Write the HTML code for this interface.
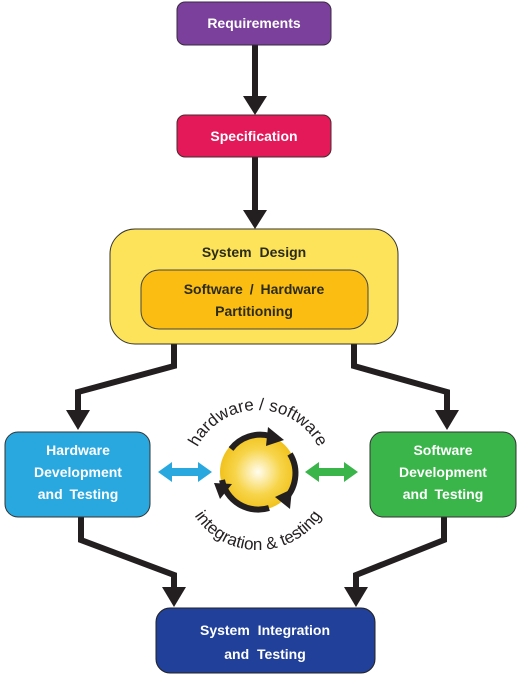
<!DOCTYPE html>
<html><head><style>body{margin:0;background:#fff}svg{display:block}</style></head><body>
<svg width="523" height="678" viewBox="0 0 523 678" xmlns="http://www.w3.org/2000/svg" font-family="Liberation Sans, sans-serif">
<defs>
<radialGradient id="g" cx="0.5" cy="0.5" r="0.5"><stop offset="0" stop-color="#fffdf0"/><stop offset="0.6" stop-color="#f7d54a"/><stop offset="1" stop-color="#f1c21c"/></radialGradient>
<path id="top" d="M190,478 A68,68 0 0 1 326,478"/>
<path id="bot" d="M182,474 A76,76 0 0 0 334,474"/>
</defs>
<g stroke="#231f20" stroke-width="6" fill="none" stroke-linejoin="miter">
<path d="M255,45 V98"/><path d="M255,157 V212"/>
<path d="M174,344 V366 L78,392 V412"/><path d="M354,344 V366 L447,392 V412"/>
<path d="M81,517 V540 L174,575 V590"/><path d="M444,517 V540 L356,575 V590"/>
</g>
<g fill="#231f20">
<path d="M243,96 H267 L255,115Z"/><path d="M243,210 H267 L255,229Z"/>
<path d="M66,410 H90 L78,430Z"/><path d="M435,410 H459 L447,430Z"/>
<path d="M162,587 H186 L174,607Z"/><path d="M344,587 H368 L356,607Z"/>
</g>
<rect x="177" y="2" width="154" height="43" rx="8" fill="#7b3f9c" stroke="#3a2a40"/>
<text x="254" y="28" text-anchor="middle" fill="#fff" font-weight="bold" font-size="14">Requirements</text>
<rect x="177" y="115" width="154" height="42" rx="8" fill="#e3195a" stroke="#4a2a30"/>
<text x="254" y="141" text-anchor="middle" fill="#fff" font-weight="bold" font-size="14">Specification</text>
<rect x="110" y="229" width="288" height="115" rx="25" fill="#fce35a" stroke="#333"/>
<text x="254" y="257" text-anchor="middle" fill="#2b2b1a" font-weight="bold" font-size="14" word-spacing="4">System Design</text>
<rect x="141" y="270" width="227" height="59" rx="18" fill="#fbbd11" stroke="#444"/>
<text x="254" y="294" text-anchor="middle" fill="#2b2b1a" font-weight="bold" font-size="14" word-spacing="3">Software / Hardware</text>
<text x="254" y="316" text-anchor="middle" fill="#2b2b1a" font-weight="bold" font-size="14">Partitioning</text>
<rect x="5" y="432" width="145" height="85" rx="13" fill="#29a8e0" stroke="#333"/>
<g fill="#fff" font-weight="bold" font-size="14" text-anchor="middle" word-spacing="3">
<text x="78" y="455">Hardware</text><text x="78" y="477">Development</text><text x="78" y="499">and Testing</text></g>
<rect x="370" y="432" width="146" height="85" rx="13" fill="#3ab54a" stroke="#333"/>
<g fill="#fff" font-weight="bold" font-size="14" text-anchor="middle" word-spacing="3">
<text x="443" y="455">Software</text><text x="443" y="477">Development</text><text x="443" y="499">and Testing</text></g>
<rect x="156" y="608" width="219" height="65" rx="14" fill="#21409a" stroke="#222"/>
<g fill="#fff" font-weight="bold" font-size="14" text-anchor="middle" word-spacing="4">
<text x="265" y="635">System Integration</text><text x="265" y="659">and Testing</text></g>
<path d="M158,472 L172,462 V468 H198 V462 L212,472 L198,482 V476 H172 V482Z" fill="#29a8e0"/>
<path d="M305,472 L319,462 V468 H344 V462 L358,472 L344,482 V476 H319 V482Z" fill="#3ab54a"/>
<circle cx="258" cy="472" r="38" fill="url(#g)"/>
<g stroke="#231f20" stroke-width="6" fill="none">
<path d="M231,449 A37,37 0 0 1 270,436"/>
<path d="M290,454 A37,37 0 0 1 283,501"/>
<path d="M269,508 A37,37 0 0 1 222,480"/>
</g>
<g fill="#231f20">
<path d="M268,427 L284,440 L266,446Z"/>
<path d="M275,497 L292,489 L290,509Z"/>
<path d="M214,483 L232,484 L220,499Z"/>
</g>
<text font-size="17" fill="#231f20"><textPath href="#top" startOffset="50%" text-anchor="middle">hardware / software</textPath></text>
<text font-size="17" fill="#231f20"><textPath href="#bot" startOffset="50%" text-anchor="middle">integration &amp; testing</textPath></text>
</svg>
</body></html>
